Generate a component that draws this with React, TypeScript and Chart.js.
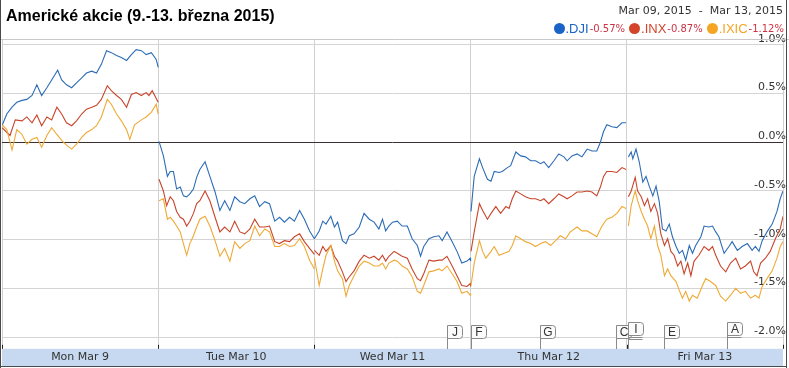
import React, { useEffect, useRef } from 'react';
import { Chart, registerables } from 'chart.js';

Chart.register(...registerables);

const titleText = 'Americké akcie (9.-13. března 2015)';
const dateRangeText = 'Mar 09, 2015  -  Mar 13, 2015';
const dayLabels = ['Mon Mar 9', 'Tue Mar 10', 'Wed Mar 11', 'Thu Mar 12', 'Fri Mar 13'];
const sessionMinutes = 390;
const yTickValues = [1.0, 0.5, 0.0, -0.5, -1.0, -1.5, -2.0];
const yMax = 1.06;
const yMin = -2.12;

const seriesNames = ['.DJI', '.INX', '.IXIC'];
const seriesChanges = ['-0.57%', '-0.87%', '-1.12%'];
const lineColors = ['#2c6cb6', '#c8452b', '#efa935'];
const dotColors = ['#1a64c8', '#d2452a', '#f5a524'];

// [minutes since market open, % change vs. previous week close]
const djiMon = [[0,0.17],[12,0.29],[25,0.36],[37,0.41],[50,0.43],[62,0.44],[75,0.48],[87,0.59],[99,0.48],[112,0.56],[124,0.64],[139,0.74],[149,0.64],[161,0.59],[174,0.56],[186,0.61],[199,0.66],[211,0.71],[224,0.73],[236,0.71],[248,0.80],[261,0.94],[273,0.92],[286,0.89],[298,0.87],[311,0.84],[323,0.90],[335,0.95],[348,0.94],[360,0.90],[373,0.92],[385,0.85],[390,0.77]];
const djiTue = [[2,0.01],[13,-0.14],[23,-0.35],[30,-0.30],[38,-0.30],[46,-0.48],[55,-0.46],[63,-0.55],[71,-0.56],[79,-0.53],[88,-0.48],[96,-0.36],[104,-0.28],[117,-0.20],[129,-0.35],[142,-0.51],[154,-0.70],[166,-0.60],[179,-0.70],[191,-0.56],[204,-0.61],[216,-0.63],[229,-0.58],[241,-0.55],[253,-0.66],[266,-0.61],[278,-0.63],[291,-0.81],[303,-0.77],[315,-0.82],[328,-0.77],[340,-0.81],[353,-0.70],[365,-0.79],[378,-0.91],[390,-0.99]];
const djiWed = [[0,-0.99],[12,-0.91],[21,-0.81],[29,-0.84],[41,-0.76],[50,-0.87],[58,-0.82],[70,-1.01],[79,-1.04],[87,-0.96],[99,-0.94],[112,-0.87],[124,-0.73],[137,-0.79],[149,-0.82],[161,-0.89],[170,-0.79],[178,-0.91],[186,-0.86],[195,-0.82],[207,-0.81],[219,-0.86],[232,-0.86],[244,-0.99],[257,-1.06],[265,-1.17],[273,-1.07],[286,-0.99],[298,-0.97],[311,-0.96],[319,-1.01],[331,-0.92],[344,-1.02],[356,-1.12],[368,-1.24],[381,-1.22],[389,-1.19],[390,-1.22]];
const djiThu = [[1,-0.71],[9,-0.35],[22,-0.17],[30,-0.26],[42,-0.38],[51,-0.40],[59,-0.30],[71,-0.31],[79,-0.30],[92,-0.26],[100,-0.24],[113,-0.10],[125,-0.14],[137,-0.15],[150,-0.19],[162,-0.19],[175,-0.22],[183,-0.20],[195,-0.26],[208,-0.19],[220,-0.12],[233,-0.15],[241,-0.19],[253,-0.14],[266,-0.12],[278,-0.15],[291,-0.07],[303,-0.09],[315,-0.09],[324,0.00],[332,0.11],[340,0.18],[353,0.16],[365,0.15],[378,0.20],[388,0.20]];
const djiFri = [[4,-0.15],[11,-0.10],[15,-0.17],[23,-0.07],[31,-0.20],[40,-0.41],[48,-0.35],[56,-0.45],[65,-0.55],[73,-0.45],[81,-0.61],[89,-0.89],[98,-0.91],[106,-0.84],[114,-0.97],[123,-1.07],[131,-1.14],[139,-1.11],[147,-1.21],[156,-1.06],[164,-1.14],[172,-1.06],[185,-0.97],[193,-0.86],[205,-0.87],[214,-0.86],[222,-0.92],[230,-0.97],[243,-1.14],[255,-1.07],[263,-1.02],[276,-1.11],[288,-1.07],[301,-1.04],[313,-1.11],[321,-1.07],[330,-1.12],[338,-1.01],[350,-0.92],[363,-0.84],[375,-0.71],[383,-0.58],[390,-0.50]];

const inxMon = [[0,0.15],[20,0.07],[33,0.23],[50,0.22],[62,0.26],[75,0.20],[87,0.28],[99,0.17],[112,0.26],[124,0.23],[137,0.36],[149,0.29],[161,0.20],[174,0.17],[186,0.22],[199,0.29],[211,0.34],[224,0.36],[236,0.38],[248,0.44],[263,0.58],[273,0.53],[286,0.48],[298,0.44],[311,0.36],[323,0.49],[335,0.51],[348,0.48],[360,0.51],[367,0.48],[375,0.53],[390,0.41]];
const inxTue = [[2,-0.38],[13,-0.50],[21,-0.65],[30,-0.56],[38,-0.60],[46,-0.71],[55,-0.77],[63,-0.79],[71,-0.86],[79,-0.81],[88,-0.73],[96,-0.63],[104,-0.60],[117,-0.50],[129,-0.60],[142,-0.77],[154,-0.92],[166,-0.87],[179,-0.92],[191,-0.81],[204,-0.92],[216,-0.94],[229,-0.89],[241,-0.79],[253,-0.87],[266,-0.87],[278,-0.86],[291,-1.02],[303,-1.04],[315,-1.01],[328,-1.02],[340,-0.97],[353,-0.94],[365,-1.02],[378,-1.09],[390,-1.15]];
const inxWed = [[0,-1.11],[12,-1.16],[21,-1.07],[29,-1.12],[41,-1.06],[50,-1.17],[58,-1.22],[70,-1.33],[79,-1.43],[87,-1.38],[99,-1.32],[112,-1.22],[124,-1.16],[137,-1.19],[149,-1.17],[161,-1.21],[170,-1.16],[178,-1.22],[186,-1.17],[199,-1.12],[207,-1.14],[219,-1.17],[232,-1.19],[244,-1.30],[257,-1.40],[265,-1.42],[273,-1.35],[286,-1.21],[298,-1.22],[311,-1.21],[319,-1.21],[331,-1.17],[344,-1.27],[356,-1.37],[368,-1.47],[381,-1.48],[389,-1.45],[390,-1.48]];
const inxThu = [[1,-1.12],[9,-0.92],[22,-0.63],[30,-0.70],[42,-0.79],[51,-0.73],[63,-0.66],[75,-0.73],[88,-0.66],[96,-0.68],[104,-0.58],[113,-0.50],[125,-0.53],[137,-0.56],[150,-0.58],[162,-0.58],[175,-0.60],[183,-0.58],[195,-0.63],[208,-0.58],[220,-0.53],[233,-0.56],[241,-0.58],[253,-0.55],[266,-0.51],[278,-0.51],[291,-0.50],[303,-0.51],[315,-0.55],[324,-0.46],[332,-0.35],[340,-0.30],[353,-0.30],[365,-0.31],[378,-0.26],[388,-0.28]];
const inxFri = [[4,-0.56],[11,-0.50],[21,-0.36],[27,-0.50],[36,-0.56],[44,-0.65],[52,-0.58],[60,-0.71],[69,-0.63],[77,-0.73],[85,-0.94],[94,-1.06],[102,-0.99],[110,-1.12],[118,-1.16],[127,-1.27],[135,-1.22],[143,-1.35],[152,-1.24],[160,-1.37],[168,-1.22],[180,-1.16],[193,-1.07],[205,-1.11],[214,-1.07],[222,-1.16],[234,-1.27],[247,-1.33],[259,-1.24],[272,-1.19],[284,-1.30],[296,-1.27],[309,-1.22],[317,-1.33],[325,-1.37],[334,-1.24],[346,-1.19],[358,-1.12],[371,-0.99],[383,-0.89],[390,-0.76]];

const ixicMon = [[0,0.18],[12,0.13],[25,-0.08],[37,0.13],[50,0.08],[62,-0.02],[75,0.03],[87,0.05],[99,-0.05],[112,0.07],[124,0.15],[137,0.08],[149,0.02],[161,-0.03],[174,-0.07],[186,-0.02],[199,0.05],[211,0.10],[224,0.13],[236,0.17],[248,0.26],[263,0.44],[273,0.39],[286,0.29],[298,0.22],[311,0.13],[319,0.03],[331,0.18],[348,0.23],[360,0.26],[373,0.31],[385,0.39],[390,0.29]];
const ixicTue = [[2,-0.60],[13,-0.58],[23,-0.79],[30,-0.77],[38,-0.81],[46,-0.86],[55,-0.92],[63,-1.04],[71,-1.16],[79,-1.04],[88,-0.96],[96,-0.87],[104,-0.79],[117,-0.76],[129,-0.86],[142,-1.01],[154,-1.17],[166,-1.09],[179,-1.22],[191,-1.02],[204,-1.09],[216,-1.04],[229,-1.01],[241,-0.86],[253,-0.96],[266,-0.89],[278,-0.92],[291,-1.07],[303,-1.07],[315,-1.04],[328,-1.07],[340,-1.06],[353,-0.99],[365,-1.07],[378,-1.21],[390,-1.30]];
const ixicWed = [[0,-1.19],[12,-1.47],[21,-1.30],[29,-1.16],[41,-1.06],[50,-1.22],[58,-1.32],[70,-1.40],[79,-1.58],[87,-1.47],[99,-1.37],[112,-1.27],[124,-1.22],[137,-1.24],[149,-1.27],[161,-1.27],[170,-1.24],[178,-1.30],[186,-1.24],[199,-1.21],[207,-1.22],[219,-1.27],[232,-1.30],[244,-1.38],[257,-1.53],[265,-1.55],[273,-1.47],[286,-1.33],[298,-1.32],[311,-1.30],[319,-1.32],[331,-1.27],[344,-1.35],[356,-1.43],[368,-1.55],[381,-1.53],[389,-1.57],[390,-1.55]];
const ixicThu = [[1,-1.47],[9,-1.24],[22,-1.01],[30,-1.12],[38,-1.19],[51,-1.12],[59,-1.07],[71,-1.16],[84,-1.14],[96,-1.12],[104,-1.06],[113,-0.96],[125,-0.99],[137,-1.02],[150,-1.04],[162,-1.07],[175,-1.04],[187,-1.02],[200,-1.06],[212,-1.01],[224,-0.96],[237,-0.99],[249,-0.92],[266,-0.87],[278,-0.91],[291,-0.91],[303,-0.94],[315,-0.97],[328,-0.86],[340,-0.79],[353,-0.77],[365,-0.73],[378,-0.66],[388,-0.68]];
const ixicFri = [[4,-0.86],[11,-0.65],[21,-0.50],[27,-0.60],[36,-0.71],[44,-0.79],[52,-0.86],[60,-0.99],[69,-0.86],[77,-1.06],[85,-1.16],[94,-1.37],[102,-1.30],[110,-1.37],[123,-1.43],[131,-1.52],[139,-1.60],[147,-1.53],[156,-1.63],[164,-1.57],[176,-1.60],[189,-1.47],[197,-1.40],[209,-1.43],[222,-1.47],[234,-1.58],[247,-1.63],[259,-1.57],[272,-1.50],[284,-1.55],[296,-1.53],[309,-1.60],[321,-1.57],[330,-1.60],[338,-1.48],[350,-1.40],[363,-1.32],[375,-1.19],[383,-1.07],[390,-1.02]];

// news flags: minutes since Monday open (trading time), letter, stacked count
const markerTimes = [1110, 1172, 1343, 1533, 1563, 1654, 1811];
const markerLabels = ['J', 'F', 'G', 'C', 'I', 'E', 'A'];
const markerStacks = [1, 1, 1, 1, 3, 1, 2];

const seriesDays = [
  [djiMon, djiTue, djiWed, djiThu, djiFri],
  [inxMon, inxTue, inxWed, inxThu, inxFri],
  [ixicMon, ixicTue, ixicWed, ixicThu, ixicFri],
];

function buildPoints(days: number[][][]) {
  const pts: { x: number; y: number | null }[] = [];
  days.forEach((day, i) => {
    if (i > 0) pts.push({ x: i * sessionMinutes, y: null });
    day.forEach(([t, v]) => pts.push({ x: i * sessionMinutes + t, y: v }));
  });
  return pts;
}

const framePlugin = {
  id: 'frame',
  beforeDraw(chart: any) {
    const { ctx, width, height } = chart;
    const xs = chart.scales.x;
    ctx.save();
    ctx.fillStyle = '#ffffff';
    ctx.fillRect(0, 0, width, height);
    ctx.fillStyle = '#c6d9f0';
    ctx.fillRect(xs.left, xs.top, xs.right - xs.left, xs.bottom - xs.top);
    ctx.restore();
  },
  afterDatasetsDraw(chart: any) {
    const { ctx, chartArea } = chart;
    const xs = chart.scales.x;
    ctx.save();
    ctx.strokeStyle = '#222';
    ctx.lineWidth = 1;
    for (let d = 0; d <= dayLabels.length; d++) {
      const px = Math.round(xs.getPixelForValue(d * sessionMinutes)) + 0.5;
      ctx.beginPath();
      ctx.moveTo(px, chartArea.bottom - 4);
      ctx.lineTo(px, chartArea.bottom);
      ctx.stroke();
    }
    ctx.strokeStyle = '#c8c8c8';
    ctx.beginPath();
    ctx.moveTo(0, Math.round(chartArea.top) + 0.5);
    ctx.lineTo(chart.width, Math.round(chartArea.top) + 0.5);
    ctx.stroke();
    markerTimes.forEach((t, i) => {
      const x = Math.round(xs.getPixelForValue(t)) + 0.5;
      const stack = markerStacks[i];
      const w = 15;
      const h = 13;
      const top = Math.round(chartArea.bottom) - 24 - (stack > 1 ? 3 : 0) + 0.5;
      ctx.strokeStyle = '#8a8a8a';
      ctx.lineWidth = 1;
      for (let s = stack - 1; s >= 1; s--) {
        ctx.beginPath();
        ctx.moveTo(x, top + h + s * 2);
        ctx.lineTo(x + w - 1, top + h + s * 2);
        ctx.stroke();
      }
      ctx.beginPath();
      ctx.moveTo(x, chartArea.bottom);
      ctx.lineTo(x, top);
      ctx.lineTo(x + w - 3, top);
      ctx.quadraticCurveTo(x + w, top, x + w, top + 3);
      ctx.lineTo(x + w, top + h - 3);
      ctx.quadraticCurveTo(x + w, top + h, x + w - 3, top + h);
      ctx.lineTo(x, top + h);
      ctx.closePath();
      ctx.fillStyle = '#fbfbfb';
      ctx.fill();
      ctx.stroke();
      ctx.beginPath();
      ctx.moveTo(x, top + h);
      ctx.lineTo(x, chartArea.bottom);
      ctx.stroke();
      ctx.fillStyle = '#333';
      ctx.font = '12px "Liberation Sans", Arial, sans-serif';
      ctx.textAlign = 'center';
      ctx.textBaseline = 'middle';
      ctx.fillText(markerLabels[i], x + w / 2, top + h / 2 + 1);
    });
    ctx.restore();
  },
  afterDraw(chart: any) {
    const { ctx, height } = chart;
    ctx.save();
    ctx.fillStyle = '#4a4a4a';
    ctx.fillRect(0, 0, 1, height);
    ctx.fillRect(786, 0, 1, height);
    ctx.fillRect(0, 366, 787, 1);
    ctx.restore();
  },
};

export default function App() {
  const ref = useRef<HTMLCanvasElement>(null);

  useEffect(() => {
    document.body.style.margin = '0';
    const xTicks: number[] = [];
    for (let d = 0; d <= dayLabels.length; d++) {
      xTicks.push(d * sessionMinutes);
      if (d < dayLabels.length) xTicks.push(d * sessionMinutes + sessionMinutes / 2);
    }
    const order = [2, 1, 0];
    const chart = new Chart(ref.current as HTMLCanvasElement, {
      type: 'line',
      data: {
        datasets: order.map((s) => ({
          label: seriesNames[s],
          data: buildPoints(seriesDays[s] as number[][][]),
          borderColor: lineColors[s],
          borderWidth: 1.1,
          pointRadius: 0,
          tension: 0,
          spanGaps: false,
          fill: false,
        })),
      },
      options: {
        animation: false,
        responsive: false,
        maintainAspectRatio: false,
        parsing: false as any,
        normalized: true,
        layout: { padding: { left: 1, right: 0, top: 39, bottom: 2 } },
        plugins: { legend: { display: false }, tooltip: { enabled: false } },
        scales: {
          x: {
            type: 'linear',
            min: 0,
            max: sessionMinutes * dayLabels.length,
            afterBuildTicks: (s: any) => {
              s.ticks = xTicks.map((v) => ({ value: v }));
            },
            grid: {
              color: (c: any) =>
                c.tick && c.tick.value % sessionMinutes === 0 ? '#d0d0d0' : 'rgba(0,0,0,0)',
              drawTicks: false,
            },
            border: { display: false },
            ticks: {
              autoSkip: false,
              maxRotation: 0,
              padding: 2,
              color: '#333',
              font: { family: '"DejaVu Sans", Verdana, sans-serif', size: 11 },
              callback: (v: any) =>
                v % sessionMinutes === sessionMinutes / 2 ? dayLabels[Math.floor(v / sessionMinutes)] : '',
            },
          },
          y: {
            position: 'right',
            min: yMin,
            max: yMax,
            afterBuildTicks: (s: any) => {
              s.ticks = yTickValues.map((v) => ({ value: v }));
            },
            grid: {
              color: (c: any) => (c.tick && c.tick.value === 0 ? '#3d2f2f' : '#d4d4d4'),
              drawTicks: false,
            },
            border: { display: false },
            ticks: {
              mirror: true,
              padding: 3,
              labelOffset: -6,
              color: '#333',
              font: { family: '"DejaVu Sans", Verdana, sans-serif', size: 11 },
              callback: (v: any) => Number(v).toFixed(1) + '%',
            },
          },
        },
      } as any,
      plugins: [framePlugin],
    });
    return () => chart.destroy();
  }, []);

  return (
    <div style={{ position: 'fixed', left: 0, top: 0, width: 789, height: 368, background: '#fff', overflow: 'hidden' }}>
      <canvas ref={ref} width={789} height={368} style={{ position: 'absolute', left: 0, top: 0, width: 789, height: 368 }} />
      <div
        style={{
          position: 'absolute',
          left: 6,
          top: 7,
          font: 'bold 16px "Liberation Sans", Arial, sans-serif',
          color: '#000',
          whiteSpace: 'nowrap',
        }}
      >
        {titleText}
      </div>
      <div
        style={{
          position: 'absolute',
          right: 6,
          top: 4,
          font: '11px "DejaVu Sans", Verdana, sans-serif',
          color: '#333',
          whiteSpace: 'pre',
        }}
      >
        {dateRangeText}
      </div>
      <div
        style={{
          position: 'absolute',
          right: 5,
          top: 21,
          display: 'flex',
          alignItems: 'center',
          whiteSpace: 'nowrap',
        }}
      >
        {seriesNames.map((name, i) => (
          <span key={name} style={{ display: 'inline-flex', alignItems: 'center', marginLeft: i === 0 ? 0 : 4 }}>
            <span
              style={{
                display: 'inline-block',
                width: 11,
                height: 11,
                borderRadius: 6,
                background: dotColors[i],
                marginRight: 1,
              }}
            />
            <span style={{ font: '13px "Liberation Sans", Arial, sans-serif', color: dotColors[i] }}>{name}</span>
            <span style={{ font: '10px "DejaVu Sans", Verdana, sans-serif', color: '#cc3344', marginLeft: 1 }}>
              {seriesChanges[i]}
            </span>
          </span>
        ))}
      </div>
    </div>
  );
}
